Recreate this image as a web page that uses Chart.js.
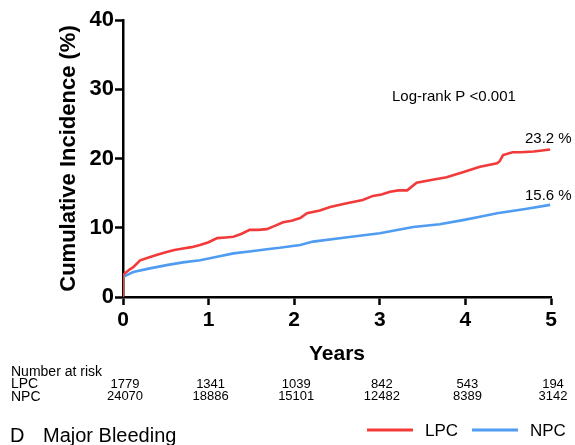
<!DOCTYPE html>
<html>
<head>
<meta charset="utf-8">
<script src="https://cdn.jsdelivr.net/npm/chart.js@4.4.1/dist/chart.umd.min.js"></script>
<style>
  html, body { margin: 0; padding: 0; background: #fff; }
  #wrap { width: 575px; height: 445px; }
</style>
</head>
<body>
<div id="wrap"><canvas id="myChart" width="575" height="445"></canvas></div>
<script>
// Curvas de incidencia acumulada (años, %)
const lpcYears = [0, 0, 0.03, 0.08, 0.12, 0.2, 0.3, 0.4, 0.51, 0.6, 0.7, 0.8, 0.9, 1.0, 1.1, 1.2, 1.29, 1.38, 1.48, 1.58, 1.68, 1.78, 1.87, 1.97, 2.07, 2.15, 2.3, 2.42, 2.6, 2.8, 2.92, 3.02, 3.12, 3.22, 3.32, 3.43, 3.6, 3.78, 3.97, 4.17, 4.37, 4.4, 4.44, 4.55, 4.64, 4.8, 4.99];
const lpcValues = [0, 3.2, 3.5, 4.0, 4.3, 5.3, 5.7, 6.1, 6.5, 6.8, 7.0, 7.2, 7.5, 7.9, 8.5, 8.6, 8.7, 9.1, 9.7, 9.7, 9.8, 10.3, 10.8, 11.0, 11.4, 12.1, 12.5, 13.0, 13.5, 14.0, 14.6, 14.8, 15.2, 15.4, 15.4, 16.5, 16.9, 17.3, 18.0, 18.8, 19.3, 19.6, 20.5, 20.9, 20.9, 21.0, 21.3];
const npcYears = [0, 0.12, 0.3, 0.51, 0.7, 0.9, 1.1, 1.29, 1.5, 1.68, 1.83, 2.07, 2.22, 2.6, 3.0, 3.39, 3.7, 3.97, 4.17, 4.37, 4.7, 4.99];
const npcValues = [2.9, 3.6, 4.1, 4.6, 5.0, 5.3, 5.8, 6.3, 6.6, 6.9, 7.1, 7.5, 8.0, 8.6, 9.2, 10.1, 10.5, 11.1, 11.6, 12.1, 12.7, 13.3];

const seriesNames = ["LPC", "NPC"];
const endLabels = ["23.2 %", "15.6 %"];
const riskYears = [0, 1, 2, 3, 4, 5];
const riskLPC = [1779, 1341, 1039, 842, 543, 194];
const riskNPC = [24070, 18886, 15101, 12482, 8389, 3142];
const yTicks = [0, 10, 20, 30, 40];

const RED = "#f23a3a";
const BLUE = "#4f9cf2";
const FONT = "Arial, 'Liberation Sans', sans-serif";

const toPoints = (xs, ys) => xs.map((x, i) => ({ x: x, y: ys[i] }));

// Textos extra: log-rank, etiquetas finales, tabla de riesgo, leyenda
const extras = {
  id: "extras",
  afterDraw(chart) {
    const c = chart.ctx;
    const xs = chart.scales.x;
    c.save();
    c.fillStyle = "#000";
    c.textBaseline = "middle";

    c.font = "15px " + FONT;
    c.textAlign = "left";
    c.fillText("Log-rank P <0.001", 392, 97);
    c.fillText(endLabels[0], 525, 139);
    c.fillText(endLabels[1], 525, 196);

    c.font = "14px " + FONT;
    c.fillText("Number at risk", 11, 372);
    c.fillText(seriesNames[0], 11, 384);
    c.fillText(seriesNames[1], 11, 397);

    c.font = "13px " + FONT;
    c.textAlign = "center";
    riskYears.forEach((yr, i) => {
      const px = xs.getPixelForValue(yr) + 2;
      c.fillText(String(riskLPC[i]), px, 384);
      c.fillText(String(riskNPC[i]), px, 396);
    });

    // leyenda
    c.lineWidth = 3;
    c.textAlign = "left";
    c.font = "17px " + FONT;
    [[RED, 367, 413, 425], [BLUE, 472, 518, 530]].forEach((l, i) => {
      c.strokeStyle = l[0];
      c.beginPath();
      c.moveTo(l[1], 430);
      c.lineTo(l[2], 430);
      c.stroke();
      c.fillText(seriesNames[i], l[3], 431);
    });

    c.font = "20px " + FONT;
    c.fillText("D", 10, 436);
    c.fillText("Major Bleeding", 43, 436);
    c.restore();
  }
};

const ctx = document.getElementById("myChart").getContext("2d");

new Chart(ctx, {
  type: "line",
  data: {
    datasets: [
      {
        label: seriesNames[0],
        data: toPoints(lpcYears, lpcValues),
        borderColor: RED,
        borderWidth: 2.6,
        pointRadius: 0,
        tension: 0
      },
      {
        label: seriesNames[1],
        data: toPoints(npcYears, npcValues),
        borderColor: BLUE,
        borderWidth: 2.6,
        pointRadius: 0,
        tension: 0
      }
    ]
  },
  options: {
    responsive: false,
    animation: false,
    layout: { padding: { top: 20, right: 24, left: 0, bottom: 0 } },
    plugins: {
      legend: { display: false },
      tooltip: { enabled: false }
    },
    scales: {
      x: {
        type: "linear",
        min: 0,
        max: 5,
        afterFit: s => { s.height = 148; },
        afterBuildTicks: s => { s.ticks = riskYears.map(v => ({ value: v })); },
        border: { display: true, color: "#000", width: 2.5 },
        grid: { drawOnChartArea: false, tickLength: 8, tickColor: "#000", tickWidth: 2.5 },
        ticks: {
          color: "#000",
          padding: 3,
          maxRotation: 0,
          font: { family: FONT, size: 21, weight: "bold" }
        },
        title: {
          display: true,
          text: "Years",
          color: "#000",
          padding: { top: 0, bottom: 78 },
          font: { family: FONT, size: 21, weight: "bold" }
        }
      },
      y: {
        min: 0,
        max: 40,
        afterFit: s => { s.width = 123; },
        afterBuildTicks: s => { s.ticks = yTicks.map(v => ({ value: v })); },
        border: { display: true, color: "#000", width: 2.5 },
        grid: { drawOnChartArea: false, tickLength: 8, tickColor: "#000", tickWidth: 2.5 },
        ticks: {
          color: "#000",
          padding: 1,
          font: { family: FONT, size: 22, weight: "bold" }
        },
        title: {
          display: true,
          text: "Cumulative Incidence (%)",
          color: "#000",
          padding: { top: 56, bottom: 0 },
          font: { family: FONT, size: 22, weight: "bold" }
        }
      }
    }
  },
  plugins: [extras]
});
</script>
</body>
</html>
